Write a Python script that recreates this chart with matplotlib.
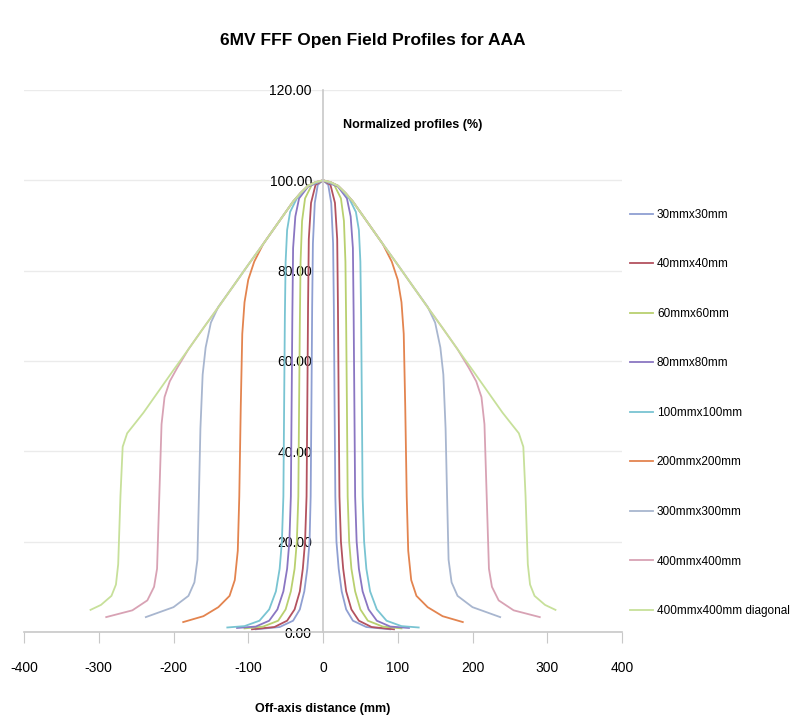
import matplotlib
matplotlib.use("Agg")
import matplotlib.pyplot as plt

# Field sizes (legend labels)
labels = ["30mmx30mm", "40mmx40mm", "60mmx60mm", "80mmx80mm", "100mmx100mm",
          "200mmx200mm", "300mmx300mm", "400mmx400mm", "400mmx400mm diagonal"]
colors = ["#8f9fd2", "#b3525f", "#b9d06f", "#8a76c2", "#79c4d2",
          "#e3844f", "#a8b6cf", "#d8a2b4", "#c7e09a"]

# Half profiles: off-axis distance (mm) and normalized dose (%)
d_30 = [0, 7, 11, 13.5, 14.5, 15.5, 16.5, 18, 21, 25, 31, 40, 58, 90]
p_30 = [100, 99, 95, 86, 72, 50, 30, 20, 14, 9, 5, 2.5, 1.1, 0.6]

d_40 = [0, 10, 16, 19, 20, 21, 22, 24, 27, 31, 38, 48, 65, 95]
p_40 = [100, 99, 95, 87, 72, 50, 30, 20, 14, 9, 5, 2.5, 1.1, 0.6]

d_60 = [0, 15, 24, 28, 30, 31, 32, 33, 35, 38, 43, 50, 60, 80, 105]
p_60 = [100, 99, 96, 91, 82, 68, 50, 30, 20, 14, 9, 5, 2.5, 1.2, 0.8]

d_80 = [0, 20, 32, 37, 40, 41, 42, 43, 45, 48, 53, 61, 72, 90, 115]
p_80 = [100, 98.6, 96, 92, 85, 70, 50, 30, 20, 14, 9, 5, 2.5, 1.2, 0.9]

d_100 = [0, 20, 35, 44, 48, 50, 51, 52, 53, 55, 58, 63, 72, 85, 105, 128]
p_100 = [100, 98.8, 96, 93, 89, 82, 70, 50, 30, 20, 14, 9, 5, 2.5, 1.3, 1.0]

d_200 = [0, 10, 20, 30, 40, 60, 80, 92, 100, 105, 108, 110, 112, 114, 118, 125, 140, 160, 187]
p_200 = [100, 99.6, 98.8, 97.2, 95.3, 90.6, 85.9, 82, 78, 73, 66, 50, 30, 18, 11.5, 8, 5.5, 3.5, 2.2]

d_300 = [0, 10, 20, 30, 40, 60, 80, 100, 120, 140, 150, 157, 161, 164, 166, 168, 172, 180, 200, 237]
p_300 = [100, 99.6, 98.8, 97.2, 95.3, 90.6, 85.9, 81.3, 76.6, 72, 68.5, 63, 57, 45, 30, 16, 11, 8, 5.5, 3.3]

d_400 = [0, 10, 20, 30, 40, 60, 80, 100, 120, 140, 160, 180, 195, 205, 212, 216, 219, 222, 226, 235, 255, 290]
p_400 = [100, 99.6, 98.8, 97.2, 95.3, 90.6, 85.9, 81.3, 76.6, 71.9, 67.3, 62.6, 58.5, 55.5, 52, 46, 30, 14, 10, 7, 4.8, 3.3]

d_diag = [0, 10, 20, 30, 40, 60, 80, 100, 120, 140, 160, 180, 200, 220, 240, 250, 262, 268, 271, 274, 277, 283, 297, 311]
p_diag = [100, 99.6, 98.8, 97.2, 95.3, 90.6, 85.9, 81.3, 76.6, 71.9, 67.3, 62.6, 58, 53.3, 48.6, 46.5, 44, 41, 30, 15, 10.5, 8, 6, 4.9]

half_profiles = [(d_30, p_30), (d_40, p_40), (d_60, p_60), (d_80, p_80), (d_100, p_100),
                 (d_200, p_200), (d_300, p_300), (d_400, p_400), (d_diag, p_diag)]

x_ticks = [-400, -300, -200, -100, 0, 100, 200, 300, 400]
y_ticks = [0, 20, 40, 60, 80, 100, 120]

plt.rcParams["font.family"] = ["Liberation Sans", "DejaVu Sans"]

fig = plt.figure(figsize=(7.94, 7.22), dpi=100)
ax = fig.add_axes([24 / 794, 1 - 632 / 722, 598 / 794, 542 / 722])

for (d, p), lab, col in zip(half_profiles, labels, colors):
    # profiles are symmetric: mirror the half profile to the negative side
    x = [-v for v in d[::-1]] + d[1:]
    y = p[::-1] + p[1:]
    ax.plot(x, y, color=col, lw=1.3, label=lab)

ax.set_xlim(-400, 400)
ax.set_ylim(0, 120)
ax.set_xticks(x_ticks)
ax.set_yticks(y_ticks)
ax.set_xticklabels([str(v) for v in x_ticks], fontsize=9)
ax.set_yticklabels(["%.2f" % v for v in y_ticks], fontsize=8.5)

ax.spines["left"].set_position(("data", 0))
ax.spines["bottom"].set_position(("data", 0))
ax.spines["top"].set_visible(False)
ax.spines["right"].set_visible(False)
for s in ["left", "bottom"]:
    ax.spines[s].set_color("#c8c8c8")
    ax.spines[s].set_linewidth(1.2)
ax.tick_params(axis="x", direction="out", length=8, color="#c8c8c8", pad=13)
ax.tick_params(axis="y", length=0, pad=8)
ax.yaxis.grid(True, color="#ebebeb", lw=1.0)
ax.set_axisbelow(True)

fig.text(373 / 794, 1 - 40 / 722, "6MV FFF Open Field Profiles for AAA",
         ha="center", va="center", fontsize=12.5, fontweight="bold")
fig.text(413 / 794, 1 - 125 / 722, "Normalized profiles (%)",
         ha="center", va="center", fontsize=9, fontweight="bold")
fig.text(323 / 794, 1 - 709 / 722, "Off-axis distance (mm)",
         ha="center", va="center", fontsize=9, fontweight="bold")

fig.legend(loc="upper left", bbox_to_anchor=(625 / 794, 1 - 204 / 722), frameon=False,
           prop=dict(size=8.5), handlelength=2.0, handletextpad=0.3,
           labelspacing=3.18, borderaxespad=0)

fig.savefig("out.png", dpi=100)
